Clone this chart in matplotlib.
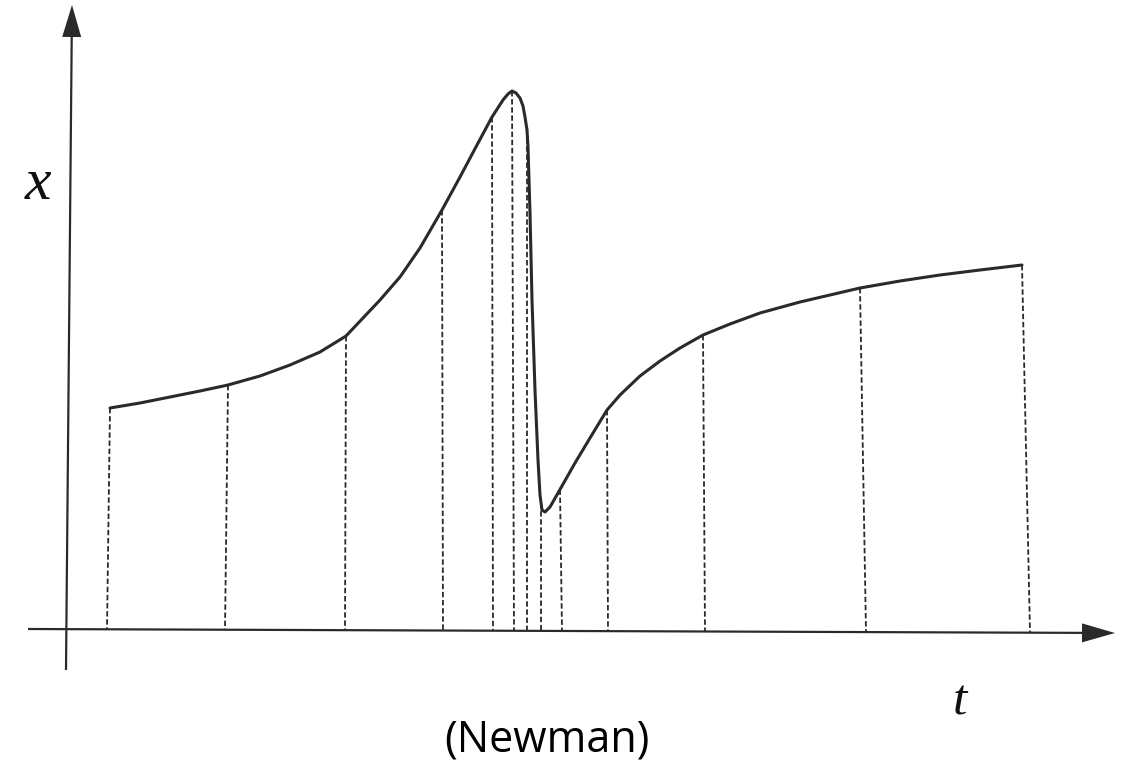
import numpy as np
import matplotlib.pyplot as plt

# кривая x(t) (единицы ~ пиксели от начала координат)
t_curve = [42, 72, 102, 132, 160, 192, 222, 252, 278, 295, 312, 332, 352, 374, 392,
           409, 424, 435, 440, 444, 448, 452, 455, 457, 459, 460, 462, 464, 467, 470,
           472, 474, 477, 482, 490, 507, 522, 539, 552, 572, 592, 612, 635, 662, 692,
           732, 792, 832, 872, 912, 954]
x_curve = [222, 227, 233, 239, 245, 254, 265, 278, 294, 312, 330, 353, 382, 420, 453,
           485, 513, 530, 536, 539, 537, 532, 524, 513, 500, 483, 417, 330, 240, 170,
           135, 120, 118, 123, 137, 167, 192, 220, 235, 254, 269, 282, 295, 306, 317,
           328, 342, 349, 355, 360, 365]

# шаги интегрирования: t на кривой и t у оси (скан немного перекошен)
t_steps = [42, 160, 278, 374, 424, 444, 459, 473, 492, 539, 635, 792, 954]
t_base = [39, 157, 277, 375, 425, 446, 459, 473, 494, 540, 637, 798, 962]

ink = '#2a2a2a'

fig = plt.figure(figsize=(11.3, 7.63), dpi=100)
ax = fig.add_axes([0, 0, 1, 1])
ax.set_xlim(-68, 1062)
ax.set_ylim(-133, 630)
ax.axis('off')

# оси со стрелками
ax.arrow(-40, 1, 1087, -4, width=2.2, head_width=19, head_length=33,
         length_includes_head=True, color=ink, lw=0)
ax.arrow(-2, -40, 6, 665, width=2.2, head_width=19, head_length=32,
         length_includes_head=True, color=ink, lw=0)

# пунктирные вертикали
x_tops = np.interp(t_steps, t_curve, x_curve)
x_base = np.interp(t_base, [-40, 1047], [1, -3])
for tt, xt, tb, xb in zip(t_steps, x_tops, t_base, x_base):
    ax.plot([tt, tb], [xt, xb], color=ink, lw=1.3, ls=(0, (3, 1.5)))

ax.plot(t_curve, x_curve, color=ink, lw=2.2, solid_capstyle='round',
        solid_joinstyle='round')

ax.text(-30, 445, 'x', fontsize=43, family='Liberation Serif', style='italic',
        ha='center', va='center', color='#111')
ax.text(892, -72, 't', fontsize=37, family='Liberation Serif', style='italic',
        ha='center', va='center', color='#111')
ax.text(479, -110, '(Newman)', fontsize=31, family='Open Sans',
        ha='center', va='center', color='black')

fig.savefig('out.png', dpi=100)
